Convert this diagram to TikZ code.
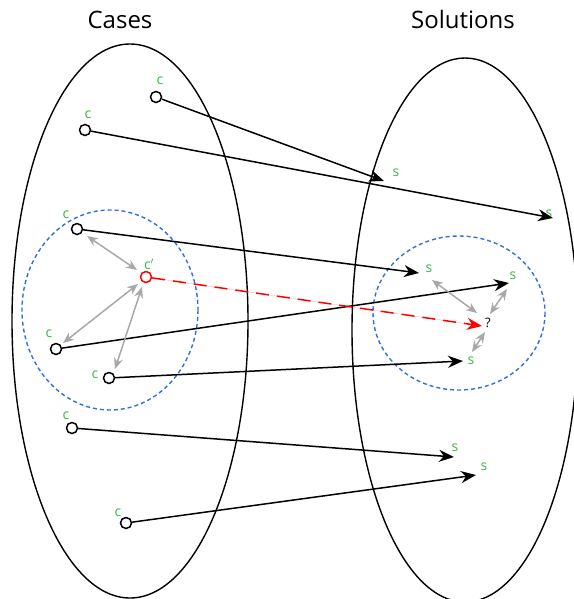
\documentclass[tikz,border=0pt]{standalone}
\usepackage{fontspec}
\setmainfont{Open Sans}
\usetikzlibrary{arrows.meta}
\definecolor{cgreen}{HTML}{3DB54A}
\definecolor{cblue}{HTML}{2F6FE0}
\definecolor{cgray}{HTML}{A8A8A8}
\begin{document}
\begin{tikzpicture}[x=1pt,y=-1pt,
  pt/.style={circle,draw=black,fill=white,line width=1.5pt,minimum size=11pt,inner sep=0pt},
  ptred/.style={pt,draw=red},
  lab/.style={text=cgreen,font=\fontsize{14}{14}\selectfont,inner sep=0pt},
  map/.style={line width=1.5pt,-{Stealth[length=15pt,width=12pt]}},
  near/.style={draw=cgray,line width=1.5pt,{Stealth[length=11pt,width=9pt]}-{Stealth[length=11pt,width=9pt]}},
  group/.style={draw=cblue,line width=1.4pt,dash pattern=on 4pt off 3pt},
  set/.style={draw=black,line width=1.4pt},
  title/.style={font=\fontsize{24}{24}\selectfont,inner sep=0pt}]
\useasboundingbox (0,0) rectangle (573,599);
% big sets
\draw[set] (130,321) ellipse [x radius=118, y radius=277];
\draw[set] (465,330) ellipse [x radius=113, y radius=272];
\node[title] (tc) at (120,20) {Cases};
\node[title] (ts) at (463,20) {Solutions};
% neighbourhoods
\draw[group] (110,310) ellipse [x radius=88, y radius=100];
\draw[group] (459,313) ellipse [x radius=86, y radius=77];
% cases
\node[pt] (c1) at (156,97) {};
\node[pt] (c2) at (85,130) {};
\node[pt] (c3) at (77,229) {};
\node[ptred] (cp) at (146,277) {};
\node[pt] (c4) at (56,349) {};
\node[pt] (c5) at (109,378) {};
\node[pt] (c6) at (72,428) {};
\node[pt] (c7) at (126,523) {};
\node[lab] (l1) at (160,81) {c};
\node[lab] (l2) at (88,115) {c};
\node[lab] (l3) at (66,215) {c};
\node[lab] (lp) at (149,264) {c$'$};
\node[lab] (l4) at (49,334) {c};
\node[lab] (l5) at (95,375) {c};
\node[lab] (l6) at (66,416) {c};
\node[lab] (l7) at (118,513) {c};
% solutions
\coordinate (s1) at (384,181);
\coordinate (s2) at (553,218);
\coordinate (s3) at (419,273);
\coordinate (s4) at (509,283);
\coordinate (s5) at (463,361);
\coordinate (s6) at (454,457);
\coordinate (s7) at (476,475);
\coordinate (q) at (482,326);
\node[lab] (m1) at (396,173) {s};
\node[lab] (m2) at (549,214) {s};
\node[lab] (m3) at (429,269) {s};
\node[lab] (m4) at (513,276) {s};
\node[lab] (m5) at (471,361) {s};
\node[lab] (m6) at (455,448) {s};
\node[lab] (m7) at (484,467) {s};
\node[font=\fontsize{13}{13}\selectfont,inner sep=0pt] (qm) at (488,323) {?};
% mappings
\draw[map] (c1) -- (s1);
\draw[map] (c2) -- (s2);
\draw[map] (c3) -- (s3);
\draw[map] (c4) -- (s4);
\draw[map] (c5) -- (s5);
\draw[map] (c6) -- (s6);
\draw[map] (c7) -- (s7);
\draw[map,draw=red,fill=red,dash pattern=on 13pt off 8pt] (cp) -- (q);
% similarity arrows
\coordinate (a1) at (87,236);
\coordinate (a2) at (137,270);
\draw[near] (a1) -- (a2);
\coordinate (b1) at (138,284);
\coordinate (b2) at (63,343);
\draw[near] (b1) -- (b2);
\coordinate (d1) at (142,287);
\coordinate (d2) at (115,369);
\draw[near] (d1) -- (d2);
\coordinate (e1) at (432,280);
\coordinate (e2) at (477,313);
\draw[near] (e1) -- (e2);
\coordinate (f1) at (507,289);
\coordinate (f2) at (490,314);
\draw[near] (f1) -- (f2);
\coordinate (g1) at (485,332);
\coordinate (g2) at (472,352);
\draw[near] (g1) -- (g2);
\end{tikzpicture}
\end{document}
